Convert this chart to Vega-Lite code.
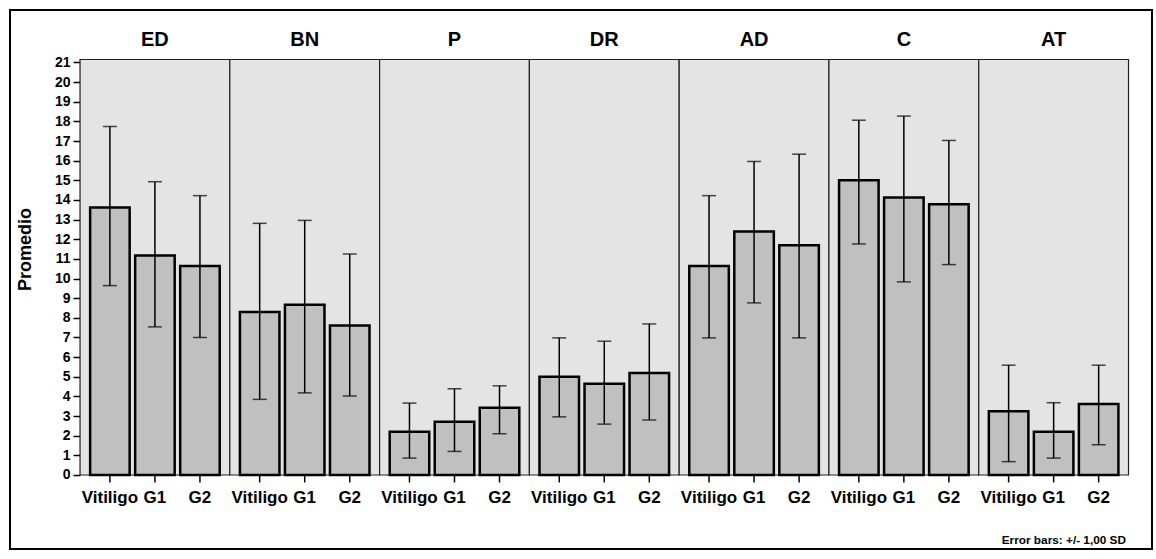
{
  "$schema": "https://vega.github.io/schema/vega-lite/v6.json",
  "width": 1142,
  "height": 539,
  "autosize": {"type": "none"},
  "padding": {"left": 10, "top": 10, "right": 4, "bottom": 10},
  "background": "white",
  "config": {
    "view": {"stroke": "black", "strokeWidth": 2, "fill": "white"},
    "font": "Liberation Sans",
    "text": {"font": "Liberation Sans", "fontWeight": "bold", "color": "black"},
    "axisY": {
      "offset": -70,
      "labelOverlap": false,
      "labelBound": false,
      "labelFlush": false,
      "domain": false,
      "grid": false,
      "ticks": true,
      "tickColor": "black",
      "tickSize": 7,
      "tickWidth": 1.5,
      "labelFont": "Liberation Sans",
      "labelFontWeight": "bold",
      "labelFontSize": 14,
      "labelColor": "black",
      "labelPadding": 3,
      "titleFont": "Liberation Sans",
      "titleFontWeight": "bold",
      "titleFontSize": 18,
      "titleColor": "black",
      "titleX": -55,
      "titleY": 239,
      "titleAngle": 270,
      "titleAlign": "center",
      "titleBaseline": "middle"
    }
  },
  "title": {
    "text": "Error bars: +/- 1,00 SD",
    "orient": "bottom",
    "anchor": "end",
    "frame": "group",
    "offset": -5,
    "dx": -26,
    "baseline": "alphabetic",
    "font": "Liberation Sans",
    "fontSize": 11.8,
    "fontWeight": "bold",
    "color": "black"
  },
  "datasets": {
    "panels": [
      {"group": "ED"}, {"group": "BN"}, {"group": "P"}, {"group": "DR"},
      {"group": "AD"}, {"group": "C"}, {"group": "AT"}
    ],
    "stats": [
      {"group": "ED", "category": "Vitiligo", "mean": 13.62, "lo": 9.64, "hi": 17.74},
      {"group": "ED", "category": "G1", "mean": 11.17, "lo": 7.54, "hi": 14.93},
      {"group": "ED", "category": "G2", "mean": 10.64, "lo": 7.0, "hi": 14.22},
      {"group": "BN", "category": "Vitiligo", "mean": 8.3, "lo": 3.85, "hi": 12.81},
      {"group": "BN", "category": "G1", "mean": 8.66, "lo": 4.18, "hi": 12.96},
      {"group": "BN", "category": "G2", "mean": 7.61, "lo": 4.02, "hi": 11.25},
      {"group": "P", "category": "Vitiligo", "mean": 2.2, "lo": 0.86, "hi": 3.66},
      {"group": "P", "category": "G1", "mean": 2.71, "lo": 1.2, "hi": 4.39},
      {"group": "P", "category": "G2", "mean": 3.42, "lo": 2.1, "hi": 4.54},
      {"group": "DR", "category": "Vitiligo", "mean": 5.0, "lo": 2.96, "hi": 6.98},
      {"group": "DR", "category": "G1", "mean": 4.64, "lo": 2.59, "hi": 6.81},
      {"group": "DR", "category": "G2", "mean": 5.19, "lo": 2.8, "hi": 7.69},
      {"group": "AD", "category": "Vitiligo", "mean": 10.64, "lo": 6.98, "hi": 14.22},
      {"group": "AD", "category": "G1", "mean": 12.39, "lo": 8.76, "hi": 15.96},
      {"group": "AD", "category": "G2", "mean": 11.69, "lo": 6.98, "hi": 16.33},
      {"group": "C", "category": "Vitiligo", "mean": 15.01, "lo": 11.76, "hi": 18.06},
      {"group": "C", "category": "G1", "mean": 14.13, "lo": 9.83, "hi": 18.27},
      {"group": "C", "category": "G2", "mean": 13.78, "lo": 10.71, "hi": 17.03},
      {"group": "AT", "category": "Vitiligo", "mean": 3.25, "lo": 0.68, "hi": 5.59},
      {"group": "AT", "category": "G1", "mean": 2.2, "lo": 0.86, "hi": 3.68},
      {"group": "AT", "category": "G2", "mean": 3.61, "lo": 1.54, "hi": 5.59}
    ]
  },
  "layer": [
    {
      "data": {"name": "panels"},
      "mark": {"type": "rect", "fill": "#e4e4e4", "stroke": "#222222", "strokeWidth": 1.2},
      "encoding": {
        "x": {
          "field": "group", "type": "nominal", "axis": null,
          "scale": {
            "domain": ["ED", "BN", "P", "DR", "AD", "C", "AT"],
            "paddingInner": 0, "paddingOuter": 0.3121, "align": 0.749
          }
        },
        "y": {
          "datum": 21.15, "type": "quantitative",
          "scale": {"domain": [-3.767, 23.67], "nice": false, "zero": false},
          "axis": {"values": [0,1,2,3,4,5,6,7,8,9,10,11,12,13,14,15,16,17,18,19,20,21], "title": "Promedio"}
        },
        "y2": {"datum": 0}
      }
    },
    {
      "data": {"name": "panels"},
      "mark": {"type": "text", "fontSize": 20, "baseline": "alphabetic", "dy": -14},
      "encoding": {
        "x": {"field": "group", "type": "nominal", "axis": null},
        "y": {
          "datum": 21.15, "type": "quantitative",
          "axis": {"values": [0,1,2,3,4,5,6,7,8,9,10,11,12,13,14,15,16,17,18,19,20,21], "title": "Promedio"}
        },
        "text": {"field": "group"}
      }
    },
    {
      "data": {"name": "stats"},
      "mark": {"type": "bar", "fill": "#c0c0c0", "stroke": "black", "strokeWidth": 2.5},
      "encoding": {
        "x": {"field": "group", "type": "nominal", "axis": null},
        "xOffset": {
          "field": "category", "type": "nominal",
          "scale": {"domain": ["Vitiligo", "G1", "G2"], "paddingInner": 0.122, "paddingOuter": 0.2245}
        },
        "y": {
          "field": "mean", "type": "quantitative",
          "axis": {"values": [0,1,2,3,4,5,6,7,8,9,10,11,12,13,14,15,16,17,18,19,20,21], "title": "Promedio"}
        },
        "y2": {"datum": 0}
      }
    },
    {
      "data": {"name": "stats"},
      "mark": {"type": "rule", "color": "black", "strokeWidth": 1.5},
      "encoding": {
        "x": {"field": "group", "type": "nominal", "axis": null},
        "xOffset": {"field": "category", "type": "nominal"},
        "y": {
          "field": "lo", "type": "quantitative",
          "axis": {"values": [0,1,2,3,4,5,6,7,8,9,10,11,12,13,14,15,16,17,18,19,20,21], "title": "Promedio"}
        },
        "y2": {"field": "hi"}
      }
    },
    {
      "data": {"name": "stats"},
      "mark": {"type": "tick", "color": "black", "thickness": 1.5, "size": 14, "orient": "horizontal"},
      "encoding": {
        "x": {"field": "group", "type": "nominal", "axis": null},
        "xOffset": {"field": "category", "type": "nominal"},
        "y": {
          "field": "lo", "type": "quantitative",
          "axis": {"values": [0,1,2,3,4,5,6,7,8,9,10,11,12,13,14,15,16,17,18,19,20,21], "title": "Promedio"}
        }
      }
    },
    {
      "data": {"name": "stats"},
      "mark": {"type": "tick", "color": "black", "thickness": 1.5, "size": 14, "orient": "horizontal"},
      "encoding": {
        "x": {"field": "group", "type": "nominal", "axis": null},
        "xOffset": {"field": "category", "type": "nominal"},
        "y": {
          "field": "hi", "type": "quantitative",
          "axis": {"values": [0,1,2,3,4,5,6,7,8,9,10,11,12,13,14,15,16,17,18,19,20,21], "title": "Promedio"}
        }
      }
    },
    {
      "data": {"name": "stats"},
      "mark": {"type": "rule", "color": "black", "strokeWidth": 1.5},
      "encoding": {
        "x": {"field": "group", "type": "nominal", "axis": null},
        "xOffset": {"field": "category", "type": "nominal"},
        "y": {
          "datum": 0, "type": "quantitative",
          "axis": {"values": [0,1,2,3,4,5,6,7,8,9,10,11,12,13,14,15,16,17,18,19,20,21], "title": "Promedio"}
        },
        "y2": {"datum": -0.38}
      }
    },
    {
      "data": {"name": "stats"},
      "mark": {"type": "text", "fontSize": 17, "baseline": "alphabetic", "dy": 28},
      "encoding": {
        "x": {"field": "group", "type": "nominal", "axis": null},
        "xOffset": {"field": "category", "type": "nominal"},
        "y": {
          "datum": 0, "type": "quantitative",
          "axis": {"values": [0,1,2,3,4,5,6,7,8,9,10,11,12,13,14,15,16,17,18,19,20,21], "title": "Promedio"}
        },
        "text": {"field": "category"}
      }
    }
  ]
}
